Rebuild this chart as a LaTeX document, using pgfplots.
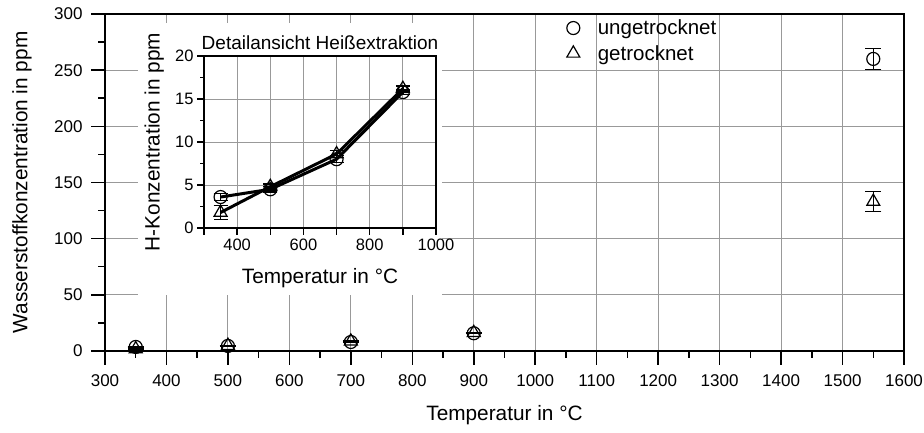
\documentclass[border=0pt]{standalone}
\usepackage{fontspec}
\setmainfont{Liberation Sans}
\usepackage{pgfplots}
\usepackage{pgfplotstable}
\pgfplotsset{compat=1.18}

% T = temperature, H = hydrogen content, E = error
\pgfplotstableread{
T H E
350 3.6 0.4
500 4.5 0.3
700 8.0 0.4
900 15.8 0.3
1550 260 9.5
}\ungetr
\pgfplotstableread{
T H E
350 1.8 0.8
500 4.8 0.3
700 8.6 0.4
900 16.2 0.3
1550 133 9
}\getr

\begin{document}
\begin{tikzpicture}[x=1bp,y=1bp]
\useasboundingbox (0,0) rectangle (924,433);
\begin{axis}[
    at={(105bp,82bp)}, anchor=south west,
    scale only axis, width=799bp, height=337bp,
    xmin=300, xmax=1600, ymin=0, ymax=300,
    xtick={300,400,...,1600}, ytick={0,50,...,300},
    minor x tick num=1, minor y tick num=1,
    xtick pos=bottom, ytick pos=left,
    tick align=outside,
    major tick length=14bp, minor tick length=7bp,
    tick style={black, line width=1.5bp},
    xmajorgrids, ymajorgrids,
    major grid style={gray!80, line width=0.9bp},
    axis line style={line width=1.8bp},
    /pgf/number format/1000 sep={},
    /pgf/number format/assume math mode=true,
    tick label style={font=\fontsize{17bp}{20bp}\selectfont},
    xticklabel style={yshift=-6bp},
    yticklabel style={xshift=-5bp},
    label style={font=\fontsize{20.8bp}{25bp}\selectfont},
    xlabel={Temperatur in °C},
    ylabel={Wasserstoffkonzentration in ppm},
    xlabel style={at={(axis description cs:0.5,-0.19)}, anchor=center},
    ylabel style={at={(axis description cs:-0.104,0.5)}, anchor=center},
    legend style={draw=none, fill=none, at={(0.574,0.995)}, anchor=north west,
        font=\fontsize{20.5bp}{24bp}\selectfont, row sep=5bp, column sep=16bp},
    legend cell align=left,
    error bars/error bar style={line width=1.5bp},
    error bars/error mark options={rotate=90, mark size=8bp, line width=1.5bp},
]
\addplot[only marks, mark=o, mark size=6.5bp, mark options={line width=1.2bp}]
    plot[error bars/.cd, y dir=both, y explicit]
    table[x=T, y=H, y error=E] {\ungetr};
\addlegendentry{ungetrocknet}
\addplot[only marks, mark=triangle, mark size=7.5bp, mark options={line width=1.2bp}]
    plot[error bars/.cd, y dir=both, y explicit]
    table[x=T, y=H, y error=E] {\getr};
\addlegendentry{getrocknet}
\end{axis}

\fill[white] (138,138) rectangle (442,410);

\begin{axis}[
    at={(204bp,205bp)}, anchor=south west,
    scale only axis, width=232bp, height=172bp,
    xmin=300, xmax=1000, ymin=0, ymax=20,
    xtick={300,400,...,1000}, xticklabels={,400,,600,,800,,1000},
    ytick={0,5,...,20}, minor y tick num=1,
    xtick pos=bottom, ytick pos=left,
    tick align=outside,
    major tick length=7bp, minor tick length=4bp,
    tick style={black, line width=1.5bp},
    xmajorgrids, ymajorgrids,
    major grid style={gray!80, line width=0.9bp},
    axis line style={line width=1.8bp},
    /pgf/number format/1000 sep={},
    /pgf/number format/assume math mode=true,
    tick label style={font=\fontsize{16.5bp}{19bp}\selectfont},
    label style={font=\fontsize{20.8bp}{25bp}\selectfont},
    title={Detailansicht Heißextraktion},
    title style={font=\fontsize{19bp}{22bp}\selectfont,
        at={(axis description cs:0.5,1)}, anchor=center, yshift=7bp},
    xlabel={Temperatur in °C},
    ylabel={H-Konzentration in ppm},
    xlabel style={at={(axis description cs:0.5,-0.29)}, anchor=center},
    ylabel style={at={(axis description cs:-0.215,0.5)}, anchor=center},
    error bars/error bar style={line width=1.5bp},
    error bars/error mark options={rotate=90, mark size=7bp, line width=1.5bp},
]
\addplot[black, line width=3bp, mark=o, mark size=6.5bp,
    mark options={line width=1.2bp}, restrict x to domain=300:1000]
    plot[error bars/.cd, y dir=both, y explicit]
    table[x=T, y=H, y error=E] {\ungetr};
\addplot[black, line width=3bp, mark=triangle, mark size=7.5bp,
    mark options={line width=1.2bp}, restrict x to domain=300:1000]
    plot[error bars/.cd, y dir=both, y explicit]
    table[x=T, y=H, y error=E] {\getr};
\end{axis}
\end{tikzpicture}
\end{document}
